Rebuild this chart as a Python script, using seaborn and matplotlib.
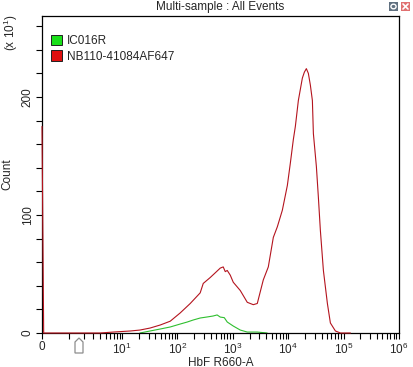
import numpy as np
import pandas as pd
import matplotlib
matplotlib.use("Agg")
import matplotlib.pyplot as plt
import seaborn as sns
from matplotlib.patches import Patch, Polygon, Rectangle, Circle
from matplotlib.lines import Line2D

# ---- data ----
samples = ["IC016R", "NB110-41084AF647"]
green_x = [21, 32, 49, 74, 112, 150, 192, 257, 345, 440, 520, 592, 700, 792,
           1017, 1361, 1821, 2761, 4160]
green_y = [0, 1.7, 3.4, 5.1, 7.6, 9.3, 11, 12.7, 13.6, 14.4, 15.3, 13.5, 13,
           9.3, 5.9, 2.5, 0.8, 0.8, 0]
red_x = [0, 0.05, 4, 6.9, 14, 21, 32, 49, 74, 112, 170, 257, 292, 390, 481,
         592, 670, 729, 792, 898, 1017, 1361, 1821, 2337, 2761, 3128, 3545,
         4367, 5379, 6357, 7823, 9637, 10920, 12370, 13440, 15230, 17990,
         19550, 21240, 23080, 25100, 27290, 28450, 32230, 35010, 38030, 43130,
         50930, 57680, 71100, 87500, 132800]
red_y = [175, 0, 0, 0.8, 1.7, 2.5, 4.2, 6.8, 10, 17, 25, 34, 42, 47, 51, 55,
         56, 52, 53, 49, 43, 36, 26, 24, 25, 35, 45, 56, 81, 90, 104, 125, 144,
         164, 175, 197, 216, 221, 224, 220, 210, 197, 169, 141, 115, 87, 53, 25,
         8.5, 1.7, 0, 0]
x_major = [0, 1e1, 1e2, 1e3, 1e4, 1e5, 1e6]
x_major_labels = ["0", "$10^{1}$", "$10^{2}$", "$10^{3}$", "$10^{4}$",
                  "$10^{5}$", "$10^{6}$"]
y_major = [0, 100, 200]

line_colors = ["#2fbf2f", "#b4141e"]
legend_colors = ["#19e019", "#e01010"]

df = pd.concat([
    pd.DataFrame({"x": green_x, "count": green_y, "sample": samples[0]}),
    pd.DataFrame({"x": red_x, "count": red_y, "sample": samples[1]}),
], ignore_index=True)

# ---- style ----
sns.set_style("ticks")
plt.rcParams["font.family"] = ["Liberation Sans", "DejaVu Sans"]
plt.rcParams["mathtext.fontset"] = "custom"
plt.rcParams["mathtext.rm"] = "Liberation Sans"
plt.rcParams["mathtext.it"] = "Liberation Sans:italic"
plt.rcParams["mathtext.bf"] = "Liberation Sans:bold"

W, H = 414, 367
fig = plt.figure(figsize=(W / 100, H / 100), dpi=100)
ax = fig.add_axes([42 / W, 1 - 333 / H, (399 - 42) / W, (333 - 16) / H])

C = 0.358
LN10 = np.log(10)


def fwd(v):
    return np.arcsinh(np.asarray(v, dtype=float) / (2 * C)) / LN10


def inv(p):
    return 2 * C * np.sinh(np.asarray(p, dtype=float) * LN10)


ax.set_xscale("function", functions=(fwd, inv))

sns.lineplot(data=df, x="x", y="count", hue="sample", hue_order=samples,
             palette=line_colors, sort=False, estimator=None, legend=False,
             linewidth=0.8, ax=ax)
# let the zero-bin spike sit on top of the left spine
ax.lines[-1].set_clip_on(False)
ax.lines[-1].set_zorder(5)

ax.set_xlim(0, 1e6)
ax.set_ylim(0, 268.6)

minor_x = list(range(1, 10))
for k in range(1, 6):
    minor_x += [m * 10 ** k for m in range(2, 10)]
ax.set_xticks(x_major)
ax.set_xticklabels(x_major_labels, fontsize=8.5)
ax.set_xticks(minor_x, minor=True)
ax.set_yticks(y_major)
ax.set_yticklabels([str(v) for v in y_major], fontsize=8.5, rotation=90,
                   va="center")
ax.set_yticks(np.arange(0, 268, 20), minor=True)

ax.tick_params(axis="both", which="both", direction="out", color="black",
               width=0.8)
ax.tick_params(axis="both", which="major", length=4, pad=2)
ax.tick_params(axis="both", which="minor", length=4)
for s in ax.spines.values():
    s.set_visible(True)
    s.set_color("black")
    s.set_linewidth(0.9)

ax.set_xlabel("HbF R660-A", fontsize=8.5, labelpad=0)
ax.set_ylabel("Count", fontsize=8.5, labelpad=6)

fig.text(220 / W, 1 - 7 / H, "Multi-sample : All Events", ha="center",
         va="center", fontsize=8.5)
fig.text(11 / W, 1 - 33 / H, "(x 10$^{1}$)", rotation=90, ha="center",
         va="center", fontsize=8.5)

# legend
handles = [Patch(facecolor=c, edgecolor="#202020", linewidth=0.7)
           for c in legend_colors]
ax.legend(handles, samples, loc="upper left",
          bbox_to_anchor=((51 - 42) / (399 - 42), (333 - 35) / (333 - 16)),
          frameon=False, fontsize=8.5, handlelength=0.95, handleheight=0.95,
          handletextpad=0.4, labelspacing=0.28, borderpad=0, borderaxespad=0)

# gate marker on the x axis
pts = [(75, 353), (83, 353), (83, 342), (79, 338), (75, 342)]
fig.add_artist(Polygon([(x / W, 1 - y / H) for x, y in pts], closed=True,
                       transform=fig.transFigure, facecolor="white",
                       edgecolor="#8c8c8c", linewidth=0.9))

# window icons top-right
fig.add_artist(Rectangle((389 / W, 1 - 11 / H), 9 / W, 9 / H,
                         transform=fig.transFigure, facecolor="#607080",
                         edgecolor="none"))
fig.add_artist(Circle((393.5 / W, 1 - 6.5 / H), 2.6 / W,
                      transform=fig.transFigure, facecolor="#607080",
                      edgecolor="white", linewidth=1.0))
fig.add_artist(Rectangle((401 / W, 1 - 11 / H), 9 / W, 9 / H,
                         transform=fig.transFigure, facecolor="#e07070",
                         edgecolor="none"))
fig.add_artist(Line2D([403 / W, 408 / W], [1 - 9 / H, 1 - 4 / H],
                      transform=fig.transFigure, color="white", linewidth=1.2))
fig.add_artist(Line2D([403 / W, 408 / W], [1 - 4 / H, 1 - 9 / H],
                      transform=fig.transFigure, color="white", linewidth=1.2))

fig.savefig("out.png", dpi=100)
